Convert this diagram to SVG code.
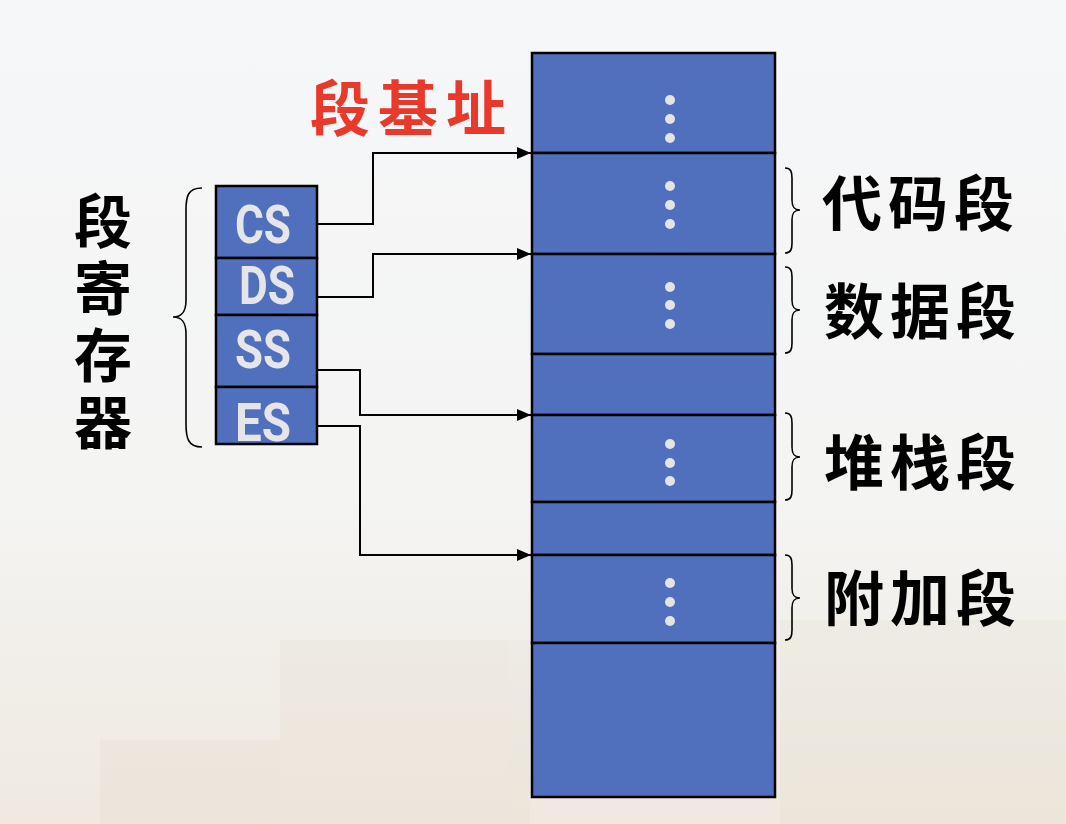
<svg xmlns="http://www.w3.org/2000/svg" width="1066" height="824" viewBox="0 0 1066 824">
<defs>
<linearGradient id="bg" x1="0" y1="0" x2="0" y2="1">
<stop offset="0" stop-color="#f6f7f9"/>
<stop offset="0.6" stop-color="#f4f4f3"/>
<stop offset="1" stop-color="#efe9e0"/>
</linearGradient>
<marker id="arr" viewBox="0 0 14 12" refX="14" refY="6" markerWidth="14" markerHeight="12" markerUnits="userSpaceOnUse" orient="auto">
<path d="M0,0 L14,6 L0,12 Z" fill="#000"/>
</marker>
<style>
.blk{fill:#5070be;stroke:#000;stroke-width:2.5}
.dot{fill:#e4e4e8}
.reg{font-family:Roboto,"Liberation Sans",sans-serif;font-weight:bold;font-size:54px;fill:#e6e6ea;text-anchor:middle}
.cn{font-family:"Noto Sans CJK SC",sans-serif;font-weight:bold;font-size:60px;fill:#000}
.con{fill:none;stroke:#000;stroke-width:2}
.brace{fill:none;stroke:#000;stroke-width:1.6}
</style>
</defs>
<rect x="0" y="0" width="1066" height="824" fill="url(#bg)"/>
<g id="background" opacity="0.18">
<rect x="280" y="640" width="250" height="184" fill="#e0d6c4"/>
<rect x="780" y="620" width="286" height="204" fill="#e0d6c4"/>
<rect x="100" y="740" width="180" height="84" fill="#ddd3c2"/>
</g>
<g id="memory">
<rect class="blk" x="532" y="53" width="243" height="100"/>
<rect class="blk" x="532" y="153" width="243" height="101"/>
<rect class="blk" x="532" y="254" width="243" height="100"/>
<rect class="blk" x="532" y="354" width="243" height="61"/>
<rect class="blk" x="532" y="415" width="243" height="87"/>
<rect class="blk" x="532" y="502" width="243" height="53"/>
<rect class="blk" x="532" y="555" width="243" height="88"/>
<rect class="blk" x="532" y="643" width="243" height="154"/>
<g class="dot">
<circle cx="670" cy="100" r="5"/><circle cx="670" cy="119" r="5"/><circle cx="670" cy="138" r="5"/>
<circle cx="670" cy="186" r="5"/><circle cx="670" cy="205" r="5"/><circle cx="670" cy="224" r="5"/>
<circle cx="670" cy="287" r="5"/><circle cx="670" cy="305" r="5"/><circle cx="670" cy="324" r="5"/>
<circle cx="670" cy="444" r="5"/><circle cx="670" cy="463" r="5"/><circle cx="670" cy="481" r="5"/>
<circle cx="670" cy="583" r="5"/><circle cx="670" cy="602" r="5"/><circle cx="670" cy="621" r="5"/>
</g>
</g>
<g id="registers">
<rect class="blk" x="216" y="186" width="101" height="72"/>
<rect class="blk" x="216" y="258" width="101" height="57"/>
<rect class="blk" x="216" y="315" width="101" height="72"/>
<rect class="blk" x="216" y="387" width="101" height="57"/>
<text class="reg" x="263" y="243" textLength="56" lengthAdjust="spacingAndGlyphs">CS</text>
<text class="reg" x="267" y="304" textLength="56" lengthAdjust="spacingAndGlyphs">DS</text>
<text class="reg" x="263" y="368" textLength="56" lengthAdjust="spacingAndGlyphs">SS</text>
<text class="reg" x="263" y="441" textLength="56" lengthAdjust="spacingAndGlyphs">ES</text>
</g>
<g id="connectors">
<polyline class="con" points="317,224 373,224 373,153 531,153" marker-end="url(#arr)"/>
<polyline class="con" points="317,297 373,297 373,254 531,254" marker-end="url(#arr)"/>
<polyline class="con" points="317,370 360,370 360,415 531,415" marker-end="url(#arr)"/>
<polyline class="con" points="317,426 360,426 360,555 531,555" marker-end="url(#arr)"/>
</g>
<g id="braces">
<path class="brace" d="M202,188 C188,188 186,196 186,210 L186,300 C186,312 182,317 173,317 C182,317 186,322 186,334 L186,424 C186,438 188,447 202,447"/>
<path class="brace" d="M785,168 C791,168 792,172 792,178 L792,200 C792,207 794,210 800,210 C794,210 792,213 792,220 L792,243 C792,249 791,253 785,253"/>
<path class="brace" d="M785,267 C791,267 792,271 792,277 L792,300 C792,307 794,310 800,310 C794,310 792,313 792,320 L792,343 C792,349 791,353 785,353"/>
<path class="brace" d="M785,413 C791,413 792,417 792,423 L792,447 C792,454 794,457 800,457 C794,457 792,460 792,467 L792,490 C792,496 791,500 785,500"/>
<path class="brace" d="M785,555 C791,555 792,559 792,565 L792,588 C792,595 794,598 800,598 C794,598 792,601 792,608 L792,630 C792,636 791,640 785,640"/>
</g>
<g id="labels">
<text class="cn" x="310" y="131" style="fill:#e8392a" letter-spacing="8">段基址</text>
<text class="cn" x="822" y="226" letter-spacing="6">代码段</text>
<text class="cn" x="824" y="334" letter-spacing="6">数据段</text>
<text class="cn" x="824" y="485" letter-spacing="6">堆栈段</text>
<text class="cn" x="824" y="621" letter-spacing="6">附加段</text>
<text id="seg-reg-label" class="cn" x="103" y="192" style="writing-mode:vertical-rl;font-size:58px" letter-spacing="9">段寄存器</text>
</g>
</svg>
